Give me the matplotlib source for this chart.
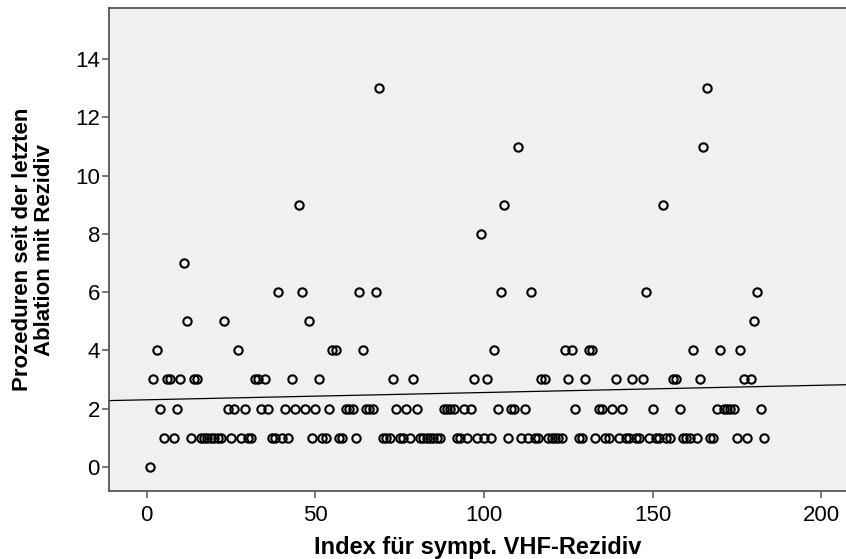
import numpy as np
import matplotlib
matplotlib.use('Agg')
import matplotlib.pyplot as plt

plt.rcParams['font.family'] = ['Liberation Sans', 'DejaVu Sans']

# values per index (index 1..183)
index = list(range(1, 184))
procedures = [
    0, 3, 4, 2, 1, 3, 3, 1, 2, 3, 7, 5, 1, 3, 3, 1, 1, 1, 1, 1,   # 1-20
    1, 1, 5, 2, 1, 2, 4, 1, 2, 1, 1, 3, 3, 2, 3, 2, 1, 1, 6, 1,   # 21-40
    2, 1, 3, 2, 9, 6, 2, 5, 1, 2, 3, 1, 1, 2, 4, 4, 1, 1, 2, 2,   # 41-60
    2, 1, 6, 4, 2, 2, 2, 6, 13, 1, 1, 1, 3, 2, 1, 1, 2, 1, 3, 2,  # 61-80
    1, 1, 1, 1, 1, 1, 1, 2, 2, 2, 2, 1, 1, 2, 1, 2, 3, 1, 8, 1,   # 81-100
    3, 1, 4, 2, 6, 9, 1, 2, 2, 11, 1, 2, 1, 6, 1, 1, 3, 3, 1, 1,  # 101-120
    1, 1, 1, 4, 3, 4, 2, 1, 1, 3, 4, 4, 1, 2, 2, 1, 1, 2, 3, 1,   # 121-140
    2, 1, 1, 3, 1, 1, 3, 6, 1, 2, 1, 1, 9, 1, 1, 3, 3, 2, 1, 1,   # 141-160
    1, 4, 1, 3, 11, 13, 1, 1, 2, 4, 2, 2, 2, 2, 1, 4, 3, 1, 3, 5, # 161-180
    6, 2, 1,                                                      # 181-183
]

# linear fit line as drawn in the chart
fit_intercept = 2.30
fit_slope = 0.0025

xticks = [0, 50, 100, 150, 200]
yticks = [0, 2, 4, 6, 8, 10, 12, 14]

fig = plt.figure(figsize=(8.46, 5.59), dpi=100)
ax = fig.add_axes([0.1288, 0.1216, 0.8712, 0.8640])
ax.set_facecolor('#f0f0f0')

ax.plot(index, procedures, linestyle='none', marker='o', markersize=6,
        markerfacecolor='none', markeredgecolor='black', markeredgewidth=1.5,
        zorder=3)

xlim = (-11.2, 207.3)
fx = np.array(xlim)
ax.plot(fx, fit_intercept + fit_slope * fx, color='black', linewidth=0.9, zorder=2)

ax.set_xlim(*xlim)
ax.set_ylim(-0.835, 15.76)
ax.set_xticks(xticks)
ax.set_yticks(yticks)

for s in ['left', 'bottom', 'top']:
    ax.spines[s].set_color('#555555')
    ax.spines[s].set_linewidth(1.3)
ax.spines['right'].set_visible(False)

ax.tick_params(axis='both', direction='out', length=5, width=1.1, color='#555555',
               labelsize=16, labelcolor='black')
ax.tick_params(axis='x', pad=5)
ax.tick_params(axis='y', pad=1.5)

ax.set_xlabel('Index für sympt. VHF-Rezidiv', fontsize=17, fontweight='bold', labelpad=7)
ax.set_ylabel('Prozeduren seit der letzten\nAblation mit Rezidiv', fontsize=16,
              fontweight='bold', linespacing=1.1)
ax.yaxis.set_label_coords(-0.073, 0.5)

plt.savefig('out.png', dpi=100)
plt.close()
